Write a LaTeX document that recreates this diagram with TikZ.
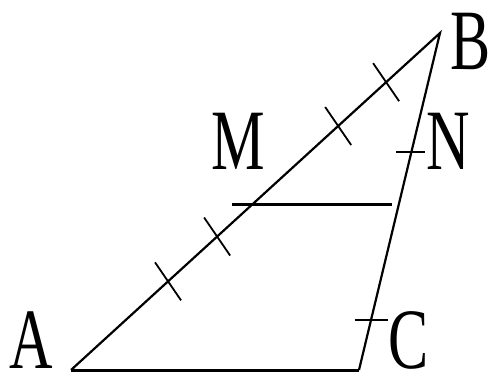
\documentclass[tikz,border=0pt]{standalone}
\usepackage{fontspec}
\setmainfont{Liberation Serif}
\usetikzlibrary{calc}
\begin{document}
\begin{tikzpicture}[x=1pt,y=-1pt,
  thin side/.style={line width=2.2pt},
  thick side/.style={line width=3pt},
  tickmark/.style={line width=1.8pt},
  lbl/.style={anchor=base,inner sep=0pt,font=\fontsize{86}{86}\selectfont}]
\useasboundingbox (0,0) rectangle (496,377);
\fill[white] (0,0) rectangle (496,377);
\coordinate (A) at (71,370);
\coordinate (B) at (440,33);
\coordinate (C) at (359,370);
\coordinate (M) at (232,205);
\coordinate (N) at (392,205);
\draw[thin side] (A) -- (B) -- (C);
\draw[thick side] (A) -- (C);
\draw[thick side] (M) -- (N);
% ticks on AB
\foreach \t in {0.263,0.396,0.724,0.854}
  \draw[tickmark] ($(A)!\t!(B)$) +(-13,-19) -- +(13,19);
% ticks on BC
\coordinate (tN) at ($(B)!0.353!(C)$);
\coordinate (tC) at ($(B)!0.852!(C)$);
\draw[tickmark] (tN) +(-15,0) -- +(14,0);
\draw[tickmark] (tC) +(-16,0) -- +(17,0);
% labels
\node[lbl] (lA) at (31,368) {\scalebox{0.7}[1]{A}};
\node[lbl] (lB) at (471,70) {\scalebox{0.7}[1]{B}};
\node[lbl] (lM) at (238,170) {\scalebox{0.7}[1]{M}};
\node[lbl] (lN) at (448,170) {\scalebox{0.7}[1]{N}};
\node[lbl] (lC) at (409,368) {\scalebox{0.7}[1]{C}};
\end{tikzpicture}
\end{document}
